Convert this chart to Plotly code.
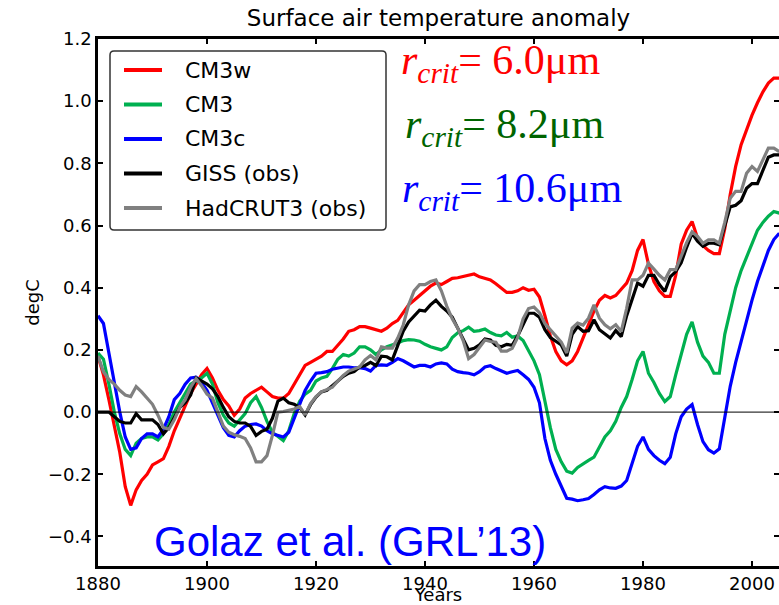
import plotly.graph_objects as go

# ---- data: annual surface air temperature anomaly (degC), 1880-2005 ----
years = list(range(1880, 2006))

cm3w = [
    0.18, 0.12, 0.04, -0.04, -0.13, -0.24, -0.30, -0.25, -0.22, -0.20,
    -0.17, -0.16, -0.15, -0.11, -0.06, -0.02, 0.02, 0.06, 0.09, 0.12,
    0.14, 0.11, 0.07, 0.04, 0.02, -0.01, 0.01, 0.045, 0.06, 0.07,
    0.08, 0.065, 0.05, 0.045, 0.045, 0.06, 0.09, 0.115, 0.15, 0.16,
    0.17, 0.18, 0.195, 0.195, 0.215, 0.235, 0.26, 0.265, 0.275, 0.275,
    0.27, 0.265, 0.26, 0.27, 0.285, 0.295, 0.32, 0.345, 0.36, 0.375,
    0.39, 0.405, 0.415, 0.41, 0.42, 0.43, 0.432, 0.436, 0.44, 0.444,
    0.435, 0.43, 0.425, 0.413, 0.40, 0.385, 0.385, 0.39, 0.40, 0.392,
    0.395, 0.37, 0.31, 0.245, 0.195, 0.165, 0.152, 0.165, 0.195, 0.24,
    0.285, 0.325, 0.36, 0.375, 0.367, 0.375, 0.395, 0.415, 0.455, 0.52,
    0.555, 0.475, 0.42, 0.39, 0.372, 0.372, 0.44, 0.54, 0.585, 0.613,
    0.56, 0.535, 0.52, 0.51, 0.51, 0.59, 0.70, 0.79, 0.86, 0.91,
    0.955, 0.995, 1.03, 1.058, 1.074, 1.074,
]

cm3 = [
    0.19, 0.17, 0.09, 0.0, -0.07, -0.12, -0.14, -0.10, -0.085, -0.08,
    -0.08, -0.09, -0.07, -0.04, 0.0, 0.03, 0.06, 0.09, 0.10, 0.11,
    0.125, 0.09, 0.03, -0.01, -0.035, -0.045, -0.025, -0.005, 0.03, 0.05,
    0.015, -0.03, -0.065, -0.08, -0.092, -0.06, -0.005, 0.035, 0.058, 0.07,
    0.10, 0.11, 0.115, 0.14, 0.17, 0.185, 0.18, 0.19, 0.21, 0.21,
    0.20, 0.185, 0.20, 0.21, 0.215, 0.222, 0.23, 0.233, 0.232, 0.228,
    0.218, 0.21, 0.205, 0.20, 0.21, 0.24, 0.255, 0.262, 0.273, 0.26,
    0.262, 0.267, 0.256, 0.248, 0.245, 0.256, 0.241, 0.245, 0.23, 0.195,
    0.165, 0.12, 0.03, -0.05, -0.12, -0.16, -0.19, -0.196, -0.178, -0.165,
    -0.155, -0.145, -0.11, -0.08, -0.06, -0.03, 0.015, 0.05, 0.105, 0.165,
    0.195, 0.125, 0.095, 0.06, 0.034, 0.05, 0.12, 0.19, 0.25, 0.29,
    0.225, 0.18, 0.16, 0.125, 0.125, 0.25, 0.33, 0.40, 0.455, 0.50,
    0.54, 0.585, 0.61, 0.63, 0.645, 0.64,
]

cm3c = [
    0.31, 0.285, 0.19, 0.09, 0.0, -0.08, -0.12, -0.115, -0.085, -0.07,
    -0.07, -0.08, -0.055, -0.015, 0.04, 0.06, 0.09, 0.11, 0.112, 0.095,
    0.07, 0.03, -0.01, -0.05, -0.075, -0.08, -0.06, -0.045, -0.04, -0.038,
    -0.045, -0.06, -0.07, -0.075, -0.08, -0.065, -0.02, 0.03, 0.07, 0.10,
    0.125, 0.127, 0.13, 0.138, 0.142, 0.145, 0.145, 0.142, 0.143, 0.14,
    0.132, 0.15, 0.152, 0.15, 0.16, 0.172, 0.165, 0.155, 0.145, 0.15,
    0.15, 0.145, 0.155, 0.158, 0.155, 0.138, 0.13, 0.127, 0.125, 0.12,
    0.13, 0.145, 0.149, 0.14, 0.132, 0.125, 0.13, 0.134, 0.12, 0.105,
    0.08, 0.03, -0.085, -0.155, -0.20, -0.24, -0.277, -0.28, -0.285, -0.282,
    -0.278, -0.265, -0.25, -0.24, -0.244, -0.245, -0.238, -0.22, -0.165, -0.11,
    -0.08, -0.12, -0.14, -0.155, -0.166, -0.145, -0.07, -0.015, 0.01, 0.024,
    -0.04, -0.095, -0.121, -0.132, -0.118, -0.02, 0.083, 0.16, 0.23, 0.30,
    0.36, 0.42, 0.47, 0.52, 0.555, 0.575,
]

giss = [
    0.0, 0.0, 0.0, -0.015, -0.03, -0.035, -0.035, -0.005, -0.025, -0.025,
    -0.025, -0.04, -0.07, -0.05, -0.015, 0.015, 0.03, 0.055, 0.11, 0.10,
    0.09, 0.075, 0.05, 0.015, -0.015, -0.03, -0.035, -0.035, -0.046, -0.075,
    -0.062, -0.055, -0.02, 0.035, 0.045, 0.03, 0.025, 0.015, -0.009, 0.024,
    0.048, 0.065, 0.07, 0.085, 0.10, 0.115, 0.125, 0.13, 0.145, 0.15,
    0.16, 0.15, 0.18, 0.178, 0.168, 0.215, 0.26, 0.29, 0.31, 0.328,
    0.325, 0.345, 0.36, 0.34, 0.325, 0.305, 0.27, 0.235, 0.20, 0.205,
    0.216, 0.235, 0.232, 0.215, 0.21, 0.218, 0.215, 0.245, 0.28, 0.318,
    0.318, 0.305, 0.265, 0.24, 0.228, 0.216, 0.18, 0.25, 0.275, 0.26,
    0.262, 0.297, 0.265, 0.25, 0.238, 0.262, 0.243, 0.31, 0.365, 0.415,
    0.405, 0.44, 0.44, 0.41, 0.388, 0.435, 0.452, 0.48, 0.53, 0.575,
    0.55, 0.533, 0.543, 0.543, 0.538, 0.597, 0.66, 0.665, 0.68, 0.72,
    0.735, 0.735, 0.78, 0.82, 0.827, 0.827,
]

hadcrut3 = [
    0.18, 0.13, 0.105, 0.09, 0.07, 0.055, 0.05, 0.082, 0.065, 0.045,
    0.025, -0.01, -0.05, -0.055, -0.025, 0.015, 0.04, 0.08, 0.108, 0.085,
    0.058, 0.045, 0.0, -0.045, -0.065, -0.073, -0.078, -0.085, -0.115, -0.16,
    -0.16, -0.14, -0.075, 0.0, 0.002, 0.005, 0.01, 0.018, -0.009, 0.027,
    0.05, 0.065, 0.072, 0.08, 0.10, 0.118, 0.132, 0.138, 0.145, 0.168,
    0.182, 0.168, 0.21, 0.206, 0.206, 0.238, 0.28, 0.345, 0.39, 0.41,
    0.41, 0.42, 0.425, 0.39, 0.34, 0.30, 0.27, 0.23, 0.172, 0.185,
    0.21, 0.232, 0.227, 0.225, 0.196, 0.196, 0.205, 0.24, 0.30, 0.333,
    0.338, 0.32, 0.285, 0.265, 0.245, 0.225, 0.19, 0.27, 0.286, 0.28,
    0.302, 0.345, 0.302, 0.281, 0.268, 0.281, 0.259, 0.334, 0.425, 0.425,
    0.44, 0.479, 0.46, 0.44, 0.425, 0.458, 0.458, 0.50, 0.545, 0.58,
    0.565, 0.543, 0.554, 0.554, 0.543, 0.61, 0.688, 0.71, 0.71, 0.768,
    0.79, 0.774, 0.811, 0.849, 0.849, 0.838,
]

series_names = ["CM3w", "CM3", "CM3c", "GISS (obs)", "HadCRUT3 (obs)"]
series_values = [cm3w, cm3, cm3c, giss, hadcrut3]
series_colors = ["#ff0000", "#00b050", "#0000ff", "#000000", "#808080"]

x_ticks = [1880, 1900, 1920, 1940, 1960, 1980, 2000]
y_ticks = [-0.4, -0.2, 0.0, 0.2, 0.4, 0.6, 0.8, 1.0, 1.2]
y_tick_labels = ["\u22120.4", "\u22120.2", "0.0", "0.2", "0.4", "0.6", "0.8", "1.0", "1.2"]

rcrit_values = ["6.0", "8.2", "10.6"]
rcrit_colors = ["#ff0000", "#006400", "#0000ff"]

# ---- figure geometry (pixels) ----
W, H = 779, 605
ML, MR, MT, MB = 98, 0, 39, 39
PW, PH = W - ML - MR, H - MT - MB
X_RANGE = [1880, 2004.95]
Y_RANGE = [-0.495, 1.2]


def fx(px):
    return (px - ML) / PW


def fy(py):
    return (H - MB - py) / PH


fig = go.Figure()

for name, vals, col in zip(series_names, series_values, series_colors):
    fig.add_trace(go.Scatter(
        x=years, y=vals, mode="lines", name=name,
        line=dict(color=col, width=3.2), showlegend=False, hoverinfo="skip",
    ))

# horizontal reference line at 0 (carries the right-hand tick axis)
fig.add_trace(go.Scatter(
    x=[X_RANGE[0], X_RANGE[1]], y=[0, 0], mode="lines", yaxis="y2",
    line=dict(color="black", width=1), showlegend=False, hoverinfo="skip",
))

tickfont = dict(family="DejaVu Sans", size=18, color="black")

fig.update_layout(
    width=W, height=H,
    margin=dict(l=ML, r=MR, t=MT, b=MB, pad=0),
    paper_bgcolor="white", plot_bgcolor="white",
    title=dict(
        text="Surface air temperature anomaly",
        font=dict(family="DejaVu Sans", size=23, color="black"),
        x=0.5, xref="paper", xanchor="center",
        y=1 - 18 / H, yref="container", yanchor="middle",
    ),
    xaxis=dict(
        range=X_RANGE, tickvals=x_ticks, ticktext=[str(v) for v in x_ticks],
        ticks="inside", ticklen=5, tickwidth=1.5, tickcolor="black",
        showline=True, linecolor="black", linewidth=2.5, mirror="ticks",
        showgrid=False, zeroline=False, tickfont=tickfont,
        ticklabelstandoff=0,
        title=dict(text="Years", font=tickfont, standoff=0),
        automargin=False,
    ),
    yaxis=dict(
        range=Y_RANGE, tickvals=y_ticks, ticktext=y_tick_labels,
        ticks="inside", ticklen=5, tickwidth=1.5, tickcolor="black",
        showline=True, linecolor="black", linewidth=2.5, mirror=False,
        showgrid=False, zeroline=False, tickfont=tickfont,
        ticklabelstandoff=0,
        title=dict(text="degC", font=tickfont, standoff=4),
        automargin=False,
    ),
    yaxis2=dict(
        range=Y_RANGE, tickvals=y_ticks, overlaying="y", side="right",
        ticks="inside", ticklen=5, tickwidth=1.5, tickcolor="black",
        showticklabels=False, showline=False, showgrid=False, zeroline=False,
        automargin=False,
    ),
)

# ---- legend box (rounded rectangle) ----
bx0, bx1, by0, by1, rad = 110, 386, 51, 230, 4
rx, ry = rad / PW, rad / PH
X0, X1, Y0, Y1 = fx(bx0), fx(bx1), fy(by1), fy(by0)
box_path = (
    f"M{X0 + rx},{Y0} L{X1 - rx},{Y0} Q{X1},{Y0} {X1},{Y0 + ry} "
    f"L{X1},{Y1 - ry} Q{X1},{Y1} {X1 - rx},{Y1} L{X0 + rx},{Y1} "
    f"Q{X0},{Y1} {X0},{Y1 - ry} L{X0},{Y0 + ry} Q{X0},{Y0} {X0 + rx},{Y0} Z"
)
fig.add_shape(type="path", path=box_path, xref="paper", yref="paper",
              line=dict(color="#333333", width=1.5), fillcolor="white", layer="above")

for i, (name, col) in enumerate(zip(series_names, series_colors)):
    yy = 70 + 34.5 * i
    fig.add_shape(type="line", xref="paper", yref="paper",
                  x0=fx(124), x1=fx(162), y0=fy(yy), y1=fy(yy),
                  line=dict(color=col, width=4), layer="above")
    fig.add_annotation(text=name, xref="paper", yref="paper",
                       x=fx(183), y=fy(yy), xanchor="left", yanchor="middle",
                       showarrow=False,
                       font=dict(family="DejaVu Sans", size=22, color="black"))

# ---- r_crit labels ----
rcrit_x = [399, 403, 400]
for i, (val, col) in enumerate(zip(rcrit_values, rcrit_colors)):
    yy = 63 + 64 * i
    fig.add_annotation(
        text=f"<i>r</i><sub><i>crit</i></sub>= {val}\u03bcm",
        xref="paper", yref="paper", x=fx(rcrit_x[i]), y=fy(yy),
        xanchor="left", yanchor="middle", showarrow=False,
        font=dict(family="Liberation Serif", size=42, color=col),
    )

fig.add_annotation(
    text="Golaz et al. (GRL\u201913)", xref="paper", yref="paper",
    x=fx(152), y=fy(541), xanchor="left", yanchor="middle", showarrow=False,
    font=dict(family="Liberation Sans", size=42, color="#0000ff"),
)

fig.write_html("out.html")
